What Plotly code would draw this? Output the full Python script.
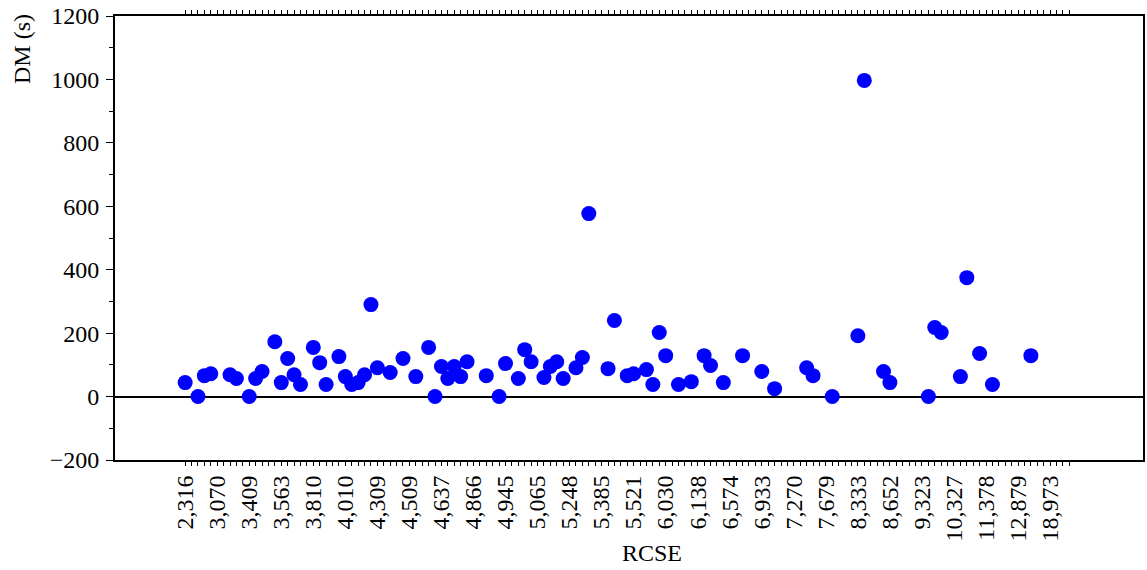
import plotly.graph_objects as go

# RCSE categories (sorted); every fifth one carries a label
n_categories = 139
rcse_tick_labels = ["2,316", "3,070", "3,409", "3,563", "3,810", "4,010", "4,309",
                    "4,509", "4,637", "4,866", "4,945", "5,065", "5,248", "5,385",
                    "5,521", "6,030", "6,138", "6,574", "6,933", "7,270", "7,679",
                    "8,333", "8,652", "9,323", "10,327", "11,378", "12,879", "18,973"]
label_step = 5

# position of each observation among the RCSE categories, and its DM in seconds
cat_index = [0, 2, 3, 4, 7, 8, 10, 11, 12, 14, 15, 16, 17, 18, 20, 21, 22, 24, 25, 26,
             27, 28, 29, 30, 32, 34, 36, 38, 39, 40, 41, 42, 43, 44, 47, 49, 50, 52, 53,
             54, 56, 57, 58, 59, 61, 62, 63, 66, 67, 69, 70, 72, 73, 74, 75, 77, 79, 81,
             82, 84, 87, 90, 92, 97, 98, 101, 105, 106, 109, 110, 116, 117, 118, 121,
             122, 124, 126, 132]
dm_values = [44, 0, 66, 72, 69, 57, 0, 57, 79, 173, 44, 120, 69, 38, 155, 107, 38, 126,
             63, 38, 44, 69, 290, 91, 76, 120, 63, 155, 0, 95, 57, 95, 63, 110, 66, 0,
             104, 57, 148, 110, 60, 95, 110, 57, 91, 123, 577, 88, 240, 66, 72, 85, 38,
             202, 129, 38, 47, 129, 98, 44, 129, 79, 25, 91, 66, 0, 192, 997, 79, 44, 0,
             218, 202, 63, 375, 136, 38, 129]

tick_vals = list(range(n_categories))
tick_text = [""] * n_categories
for k, lab in enumerate(rcse_tick_labels):
    tick_text[k * label_step] = lab

FONT = "Liberation Serif, Times New Roman, serif"
FS = 24

fig = go.Figure()
fig.add_trace(go.Scatter(
    x=cat_index, y=dm_values, mode="markers",
    marker=dict(color="#0000FF", size=15, line=dict(width=0)),
    showlegend=False, hoverinfo="x+y",
))

fig.update_layout(
    width=1147, height=570,
    margin=dict(l=115, r=2, t=16, b=110),
    paper_bgcolor="white", plot_bgcolor="white",
    font=dict(family=FONT, size=FS, color="black"),
    xaxis=dict(
        range=[-10.95, 149.5],
        tickmode="array", tickvals=tick_vals, ticktext=tick_text,
        tickangle=-90, ticks="outside", ticklen=4, tickwidth=1, tickcolor="black",
        showline=True, linecolor="black", linewidth=2, mirror="ticks",
        showgrid=False, zeroline=False,
        tickfont=dict(family=FONT, size=FS, color="black"),
    ),
    yaxis=dict(
        range=[-200, 1200], dtick=200, tick0=0,
        ticks="outside", ticklen=7, tickwidth=1, tickcolor="black",
        minor=dict(dtick=100, tick0=0, ticks="outside", ticklen=4, tickwidth=1,
                   tickcolor="black", showgrid=False),
        showline=True, linecolor="black", linewidth=2, mirror=True,
        showgrid=False, zeroline=True, zerolinecolor="black", zerolinewidth=2,
        tickfont=dict(family=FONT, size=FS, color="black"),
        ticklabelstandoff=2,
    ),
    annotations=[
        dict(text="RCSE", xref="paper", yref="paper", x=(653 - 115) / 1030, y=0,
             yshift=-93, xanchor="center", yanchor="middle", showarrow=False,
             font=dict(family=FONT, size=FS, color="black")),
        dict(text="DM (s)", xref="paper", yref="paper", x=0, y=1, xshift=-93,
             yshift=4, textangle=-90, xanchor="center", yanchor="top",
             showarrow=False, font=dict(family=FONT, size=FS, color="black")),
    ],
)

fig.write_html("out.html")
